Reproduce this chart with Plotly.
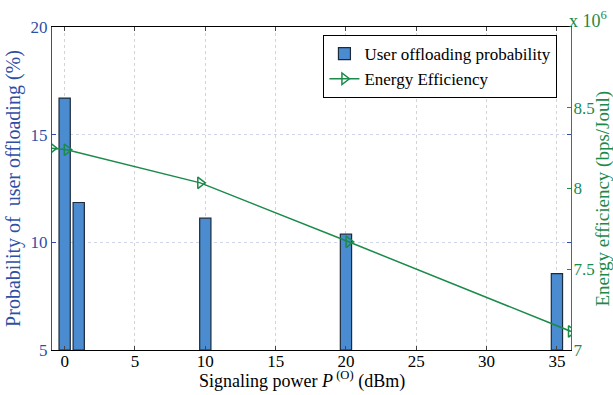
import plotly.graph_objects as go

# Data
bar_x = [0, 1, 10, 20, 35]
offload_prob = [16.7, 11.85, 11.12, 10.38, 8.55]
line_x = [0, 1, 10, 20, 35]
energy_eff = [8.25, 8.24, 8.035, 7.67, 7.115]   # x 10^6 bps/Joul
x_ticks = [0, 5, 10, 15, 20, 25, 30, 35]
y_ticks = [5, 10, 15, 20]
y2_ticks = [7, 7.5, 8, 8.5]

BLUE = "#2f4fa6"
GREEN = "#1b8a4a"
BARC = "#4a8ccf"
FONT = "Liberation Serif"

fig = go.Figure()
fig.add_trace(go.Bar(
    x=bar_x, y=[v - 5 for v in offload_prob], base=5, width=0.8,
    marker=dict(color=BARC, line=dict(color="#1c2b3c", width=1.2)),
    name="User offloading probability", xaxis="x", yaxis="y",
))
fig.add_trace(go.Scatter(
    x=line_x, y=energy_eff, mode="lines+markers",
    line=dict(color=GREEN, width=1.5),
    marker=dict(symbol="triangle-right-open", size=10, color=GREEN, line=dict(width=1.5, color=GREEN)),
    name="Energy Efficiency", xaxis="x2", yaxis="y2",
))

fig.update_layout(
    width=613, height=395,
    margin=dict(l=52, r=42, t=27, b=45, autoexpand=False),
    plot_bgcolor="white", paper_bgcolor="white",
    font=dict(family=FONT, size=17, color="black"),
    showlegend=True,
    legend=dict(x=0.523, y=0.975, xanchor="left", yanchor="top",
                bgcolor="white", bordercolor="black", borderwidth=1,
                font=dict(family=FONT, size=17, color="black"),
                tracegroupgap=0, itemwidth=30),
    xaxis=dict(range=[-0.9, 36], tickvals=x_ticks, ticks="inside", ticklen=4,
               showline=True, linecolor="black", linewidth=1, mirror="ticks",
               showgrid=True, gridcolor="#d4d4d4", griddash="dot", zeroline=False,
               automargin=False, ticklabelstandoff=-4,
               tickfont=dict(family=FONT, size=17, color="black")),
    xaxis2=dict(range=[0, 35], overlaying="x", visible=False),
    yaxis=dict(range=[5, 20], tickvals=y_ticks, ticks="inside", ticklen=4,
               tickcolor=BLUE, showline=True, linecolor=BLUE, linewidth=1, mirror="ticks",
               showgrid=True, gridcolor="#d0d6ea", griddash="dot", zeroline=False,
               automargin=False,
               tickfont=dict(family=FONT, size=17, color=BLUE),
               title=dict(text="Probability of\u00a0 user offloading (%)",
                          font=dict(family=FONT, size=20, color=BLUE), standoff=4)),
    yaxis2=dict(range=[7, 9], tickvals=y2_ticks, ticktext=["7", "7.5", "8", "8.5"],
                overlaying="y", side="right", ticks="inside", ticklen=4,
                tickcolor=GREEN, showline=True, linecolor=GREEN, linewidth=1,
                showgrid=False, zeroline=False, automargin=False, ticklabelstandoff=-2,
                tickfont=dict(family=FONT, size=17, color=GREEN)),
    annotations=[
        dict(text="Signaling power <i>P</i><sup> (O)</sup> (dBm)", xref="paper", yref="paper",
             x=0.5, y=0, xanchor="center", yanchor="bottom", yshift=-44, xshift=-10,
             showarrow=False, font=dict(family=FONT, size=18, color="black")),
        dict(text="x 10<sup>6</sup>", xref="paper", yref="paper", x=1.0, y=1.0,
             xanchor="left", yanchor="bottom", showarrow=False,
             font=dict(family=FONT, size=18, color=GREEN), xshift=-4, yshift=-6),
        dict(text="Energy efficiency (bps/Joul)", xref="paper", yref="paper",
             x=1.0, y=0.5, xanchor="center", yanchor="middle", textangle=-90,
             xshift=31, yshift=-10, showarrow=False,
             font=dict(family=FONT, size=19, color=GREEN)),
    ],
)

fig.write_html("out.html")
